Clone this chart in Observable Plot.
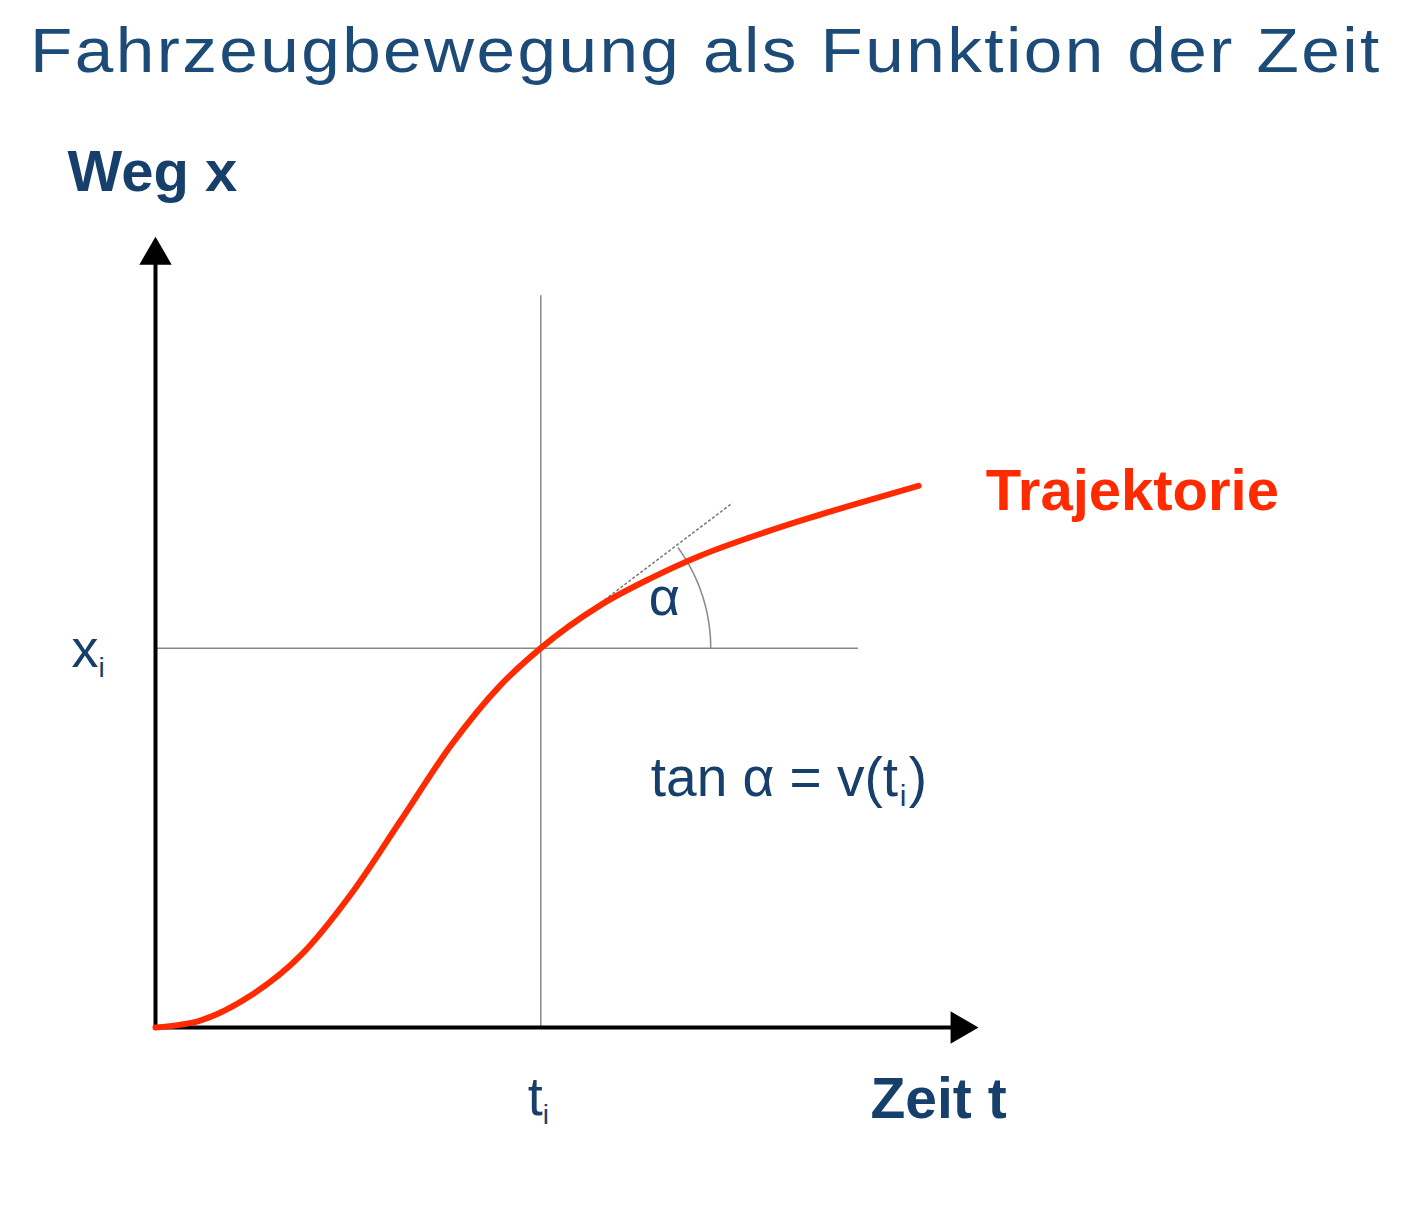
<!DOCTYPE html>
<html>
<head>
<meta charset="utf-8">
<script src="https://cdn.jsdelivr.net/npm/d3@7"></script>
<script src="https://cdn.jsdelivr.net/npm/@observablehq/plot@0.6"></script>
<style>
  body { margin: 0; background: #fff; font-family: "Liberation Sans", Arial, sans-serif; }
  #wrap { position: relative; width: 1416px; height: 1216px; }
  h1 { position: absolute; left: 30px; top: 14px; margin: 0; font-weight: normal; font-size: 63px; letter-spacing: 2.2px; transform: scaleX(1.1); transform-origin: left; color: #1d4b78; white-space: nowrap; }
  #chart { position: absolute; left: 0; top: 0; }
</style>
</head>
<body>
<div id="wrap">
  <div id="chart"></div>
  <h1>Fahrzeugbewegung als Funktion der Zeit</h1>
</div>
<script>
// Trajektorie x(t)
const trajT = [0, 0.55, 1.15, 1.76, 2.36, 2.97, 3.58, 4.18, 4.67, 5.39, 6.0, 6.61, 7.21, 7.82, 8.42, 9.25]
const trajX = [0, 0.09, 0.40, 0.91, 1.67, 2.61, 3.56, 4.32, 4.79, 5.33, 5.67, 5.96, 6.19, 6.40, 6.59, 6.84]
const ti = 4.67
const xi = 4.79
const tangentEnd = [6.99, 6.62]
const traj = trajT.map((t, i) => ({t, x: trajX[i]}))

const blue = '#173f6b'
const red = '#ff2a00'

// Winkelbogen (Radius in Einheiten, x/y-Skalen leicht verschieden)
const arc = d3.range(0, 38, 2).map(a => ({
  t: ti + 2.06 * Math.cos(a * Math.PI / 180),
  x: xi + 2.15 * Math.sin(a * Math.PI / 180)
}))

const chart = Plot.plot({
  width: 1416,
  height: 1216,
  margin: 0,
  x: {domain: [0, 10], range: [155, 980], axis: null},
  y: {domain: [0, 10], range: [1027, 235], axis: null},
  style: {fontFamily: '"Liberation Sans", Arial, sans-serif'},
  marks: [
    // Hilfslinien
    Plot.ruleX([ti], {y1: 0, y2: 9.24, stroke: '#888', strokeWidth: 1.5}),
    Plot.ruleY([xi], {x1: 0, x2: 8.52, stroke: '#888', strokeWidth: 1.5}),
    Plot.link([{}], {x1: ti, y1: xi, x2: tangentEnd[0], y2: tangentEnd[1], stroke: '#777', strokeWidth: 1.5, strokeDasharray: '3,2'}),
    Plot.line(arc, {x: 't', y: 'x', stroke: '#888', strokeWidth: 1.5}),
    // Achsen
    Plot.link([{}], {x1: 0, y1: 0, x2: 0, y2: 9.7, stroke: '#000', strokeWidth: 4}),
    Plot.link([{}], {x1: 0, y1: 0, x2: 9.7, y2: 0, stroke: '#000', strokeWidth: 4}),
    Plot.dot([{}], {x: 0, y: 9.75, symbol: 'triangle', r: 12, fill: '#000'}),
    Plot.dot([{}], {x: 9.75, y: 0, symbol: 'triangle', r: 12, fill: '#000', rotate: 90}),
    // Trajektorie
    Plot.line(traj, {x: 't', y: 'x', curve: 'monotone-x', stroke: red, strokeWidth: 6}),
    // Beschriftungen
    Plot.text(['Weg x'], {x: 0, y: 10, dx: -88, dy: -63, textAnchor: 'start', fontSize: 58, fontWeight: 'bold', fill: blue}),
    Plot.text(['Zeit t'], {x: 10, y: 0, dx: -110, dy: 72, textAnchor: 'start', fontSize: 57, fontWeight: 'bold', fill: blue}),
    Plot.text(['Trajektorie'], {x: 9.25, y: 6.84, dx: 67, dy: 6, textAnchor: 'start', fontSize: 58, fontWeight: 'bold', fill: red}),
    Plot.text(['x'], {x: 0, y: xi, dx: -84, dy: 2, textAnchor: 'start', fontSize: 54, fill: blue}),
    Plot.text(['i'], {x: 0, y: xi, dx: -57, dy: 20, textAnchor: 'start', fontSize: 28, fill: blue}),
    Plot.text(['t'], {x: ti, y: 0, dx: -13, dy: 70, textAnchor: 'start', fontSize: 54, fill: blue}),
    Plot.text(['i'], {x: ti, y: 0, dx: 2, dy: 88, textAnchor: 'start', fontSize: 28, fill: blue}),
    Plot.text(['α'], {x: ti, y: xi, dx: 108, dy: -50, textAnchor: 'start', fontSize: 54, fill: blue}),
    Plot.text(['tan α = v(t'], {x: ti, y: xi, dx: 110, dy: 130, textAnchor: 'start', fontSize: 55, fill: blue}),
    Plot.text(['i'], {x: ti, y: xi, dx: 359, dy: 148, textAnchor: 'start', fontSize: 30, fill: blue}),
    Plot.text([')'], {x: ti, y: xi, dx: 368, dy: 130, textAnchor: 'start', fontSize: 55, fill: blue})
  ]
})
d3.select('#chart').append(() => chart)
</script>
</body>
</html>
